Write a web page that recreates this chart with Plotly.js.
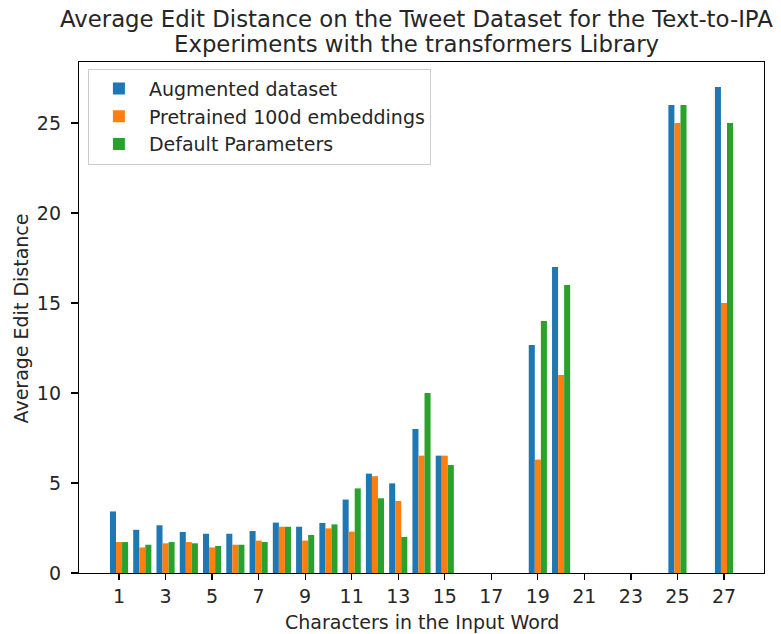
<!DOCTYPE html>
<html>
<head>
<meta charset="utf-8">
<script src="https://cdn.plot.ly/plotly-3.0.1.min.js"></script>
<style>html,body{margin:0;padding:0;background:#fff;}#chart{width:781px;height:634px;}</style>
</head>
<body>
<div id="chart"></div>
<script>
const chars = [1, 2, 3, 4, 5, 6, 7, 8, 9, 10, 11, 12, 13, 14, 15, 19, 20, 25, 27];
const augmented = [3.42, 2.4, 2.65, 2.28, 2.18, 2.18, 2.33, 2.8, 2.57, 2.78, 4.08, 5.52, 4.98, 8.0, 6.52, 12.67, 17.0, 26.0, 27.0];
const pretrained = [1.72, 1.42, 1.65, 1.72, 1.42, 1.57, 1.8, 2.57, 1.8, 2.48, 2.3, 5.38, 4.0, 6.52, 6.52, 6.3, 11.0, 25.0, 15.0];
const defaults = [1.72, 1.57, 1.72, 1.65, 1.5, 1.57, 1.72, 2.57, 2.11, 2.7, 4.7, 4.15, 2.0, 10.0, 6.0, 14.0, 16.0, 26.0, 25.0];
const seriesNames = ['Augmented dataset', 'Pretrained 100d embeddings', 'Default Parameters'];
const xTicks = [1, 3, 5, 7, 9, 11, 13, 15, 17, 19, 21, 23, 25, 27];
const yTicks = [0, 5, 10, 15, 20, 25];
const titleLines = ['Average Edit Distance on the Tweet Dataset for the Text-to-IPA', 'Experiments with the transformers Library'];
const xTitle = 'Characters in the Input Word';
const yTitle = 'Average Edit Distance';

const colors = ['#1f77b4', '#ff7f0e', '#2ca02c'];
const series = [augmented, pretrained, defaults];
const w = 0.26;
const offsets = [-1.5 * w, -0.5 * w, 0.5 * w];
const F = 'DejaVu Sans, sans-serif';
const TC = '#262626';
const FS = 19;

const traces = series.map((vals, i) => ({
  type: 'bar',
  x: chars,
  y: vals,
  name: seriesNames[i],
  width: w,
  offset: offsets[i],
  marker: {color: colors[i], line: {width: 0}},
  legendgroup: 'g' + i,
  hoverinfo: 'x+y'
}));

const layout = {
  width: 781,
  height: 634,
  margin: {l: 79, r: 17, t: 62, b: 61, pad: 0},
  paper_bgcolor: '#fff',
  plot_bgcolor: '#fff',
  font: {family: F, size: FS, color: TC},
  barmode: 'overlay',
  showlegend: true,
  legend: {
    x: 0.013, y: 0.987, xanchor: 'left', yanchor: 'top',
    bgcolor: 'rgba(255,255,255,0.8)', bordercolor: '#cccccc', borderwidth: 1,
    font: {family: F, size: FS, color: TC},
    tracegroupgap: 6, traceorder: 'normal', itemwidth: 50
  },
  annotations: [
    {text: titleLines[0], xref: 'paper', yref: 'paper', x: 0.492, y: 1.084, xanchor: 'center', yanchor: 'middle', showarrow: false, font: {family: F, size: 22.8, color: TC}},
    {text: titleLines[1], xref: 'paper', yref: 'paper', x: 0.492, y: 1.036, xanchor: 'center', yanchor: 'middle', showarrow: false, font: {family: F, size: 22.8, color: TC}},
    {text: xTitle, xref: 'paper', yref: 'paper', x: 0.5, y: -0.096, xanchor: 'center', yanchor: 'middle', showarrow: false, font: {family: F, size: FS, color: TC}},
    {text: yTitle, xref: 'paper', yref: 'paper', x: -0.0847, y: 0.498, xanchor: 'center', yanchor: 'middle', textangle: -90, showarrow: false, font: {family: F, size: FS, color: TC}}
  ],
  xaxis: {
    range: [-0.72, 28.72],
    tickmode: 'array', tickvals: xTicks, ticktext: xTicks.map(String),
    ticks: 'outside', ticklen: 6, tickwidth: 1.2, tickcolor: '#000',
    showline: true, linecolor: '#000', linewidth: 1.2, mirror: true,
    showgrid: false, zeroline: false,
    tickfont: {family: F, size: FS, color: TC}
  },
  yaxis: {
    range: [0, 28.39],
    tickmode: 'array', tickvals: yTicks, ticktext: yTicks.map(String),
    ticks: 'outside', ticklen: 7, tickwidth: 1.2, tickcolor: '#000',
    showline: true, linecolor: '#000', linewidth: 1.2, mirror: true,
    showgrid: false, zeroline: false, ticklabelstandoff: 6,
    tickfont: {family: F, size: FS, color: TC}
  }
};

Plotly.newPlot('chart', traces, layout, {displayModeBar: false, staticPlot: true});
</script>
</body>
</html>
